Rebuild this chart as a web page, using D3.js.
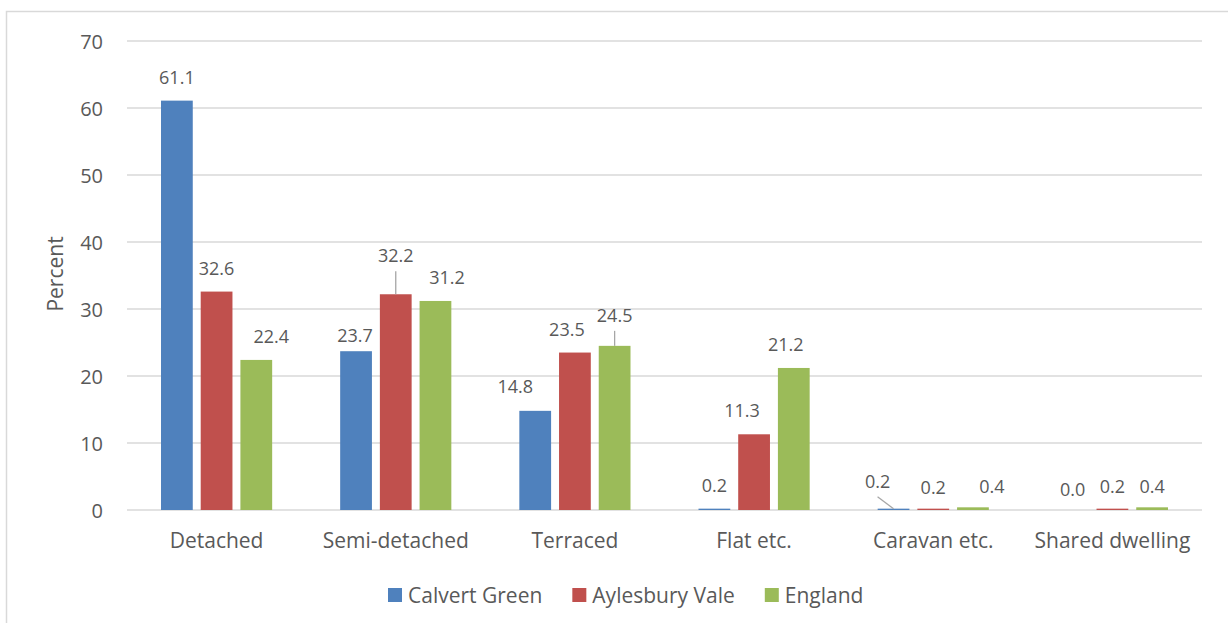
<!DOCTYPE html>
<html>
<head>
<meta charset="utf-8">
<script src="https://cdn.jsdelivr.net/npm/d3@7"></script>
<style>
  html, body { margin: 0; padding: 0; background: #ffffff; }
  svg { display: block; }
  text { font-family: "Open Sans", sans-serif; fill: #595959; }
</style>
</head>
<body>
<svg id="chart" width="1228" height="623"></svg>
<script>
// ---- Data ----
const categories = ["Detached", "Semi-detached", "Terraced", "Flat etc.", "Caravan etc.", "Shared dwelling"];
const seriesNames = ["Calvert Green", "Aylesbury Vale", "England"];
const calvertGreen = [61.1, 23.7, 14.8, 0.2, 0.2, 0.0];
const aylesburyVale = [32.6, 32.2, 23.5, 11.3, 0.2, 0.2];
const england = [22.4, 31.2, 24.5, 21.2, 0.4, 0.4];
const yTicks = [0, 10, 20, 30, 40, 50, 60, 70];

// ---- Layout / style (not data) ----
const colors = ["#4f81bd", "#c0504d", "#9bbb59"];
// label nudges [dx, dy, leader] per series per category (manual label placement)
const labelNudge = [
  [[0,0,0],[-1,8,0],[-20,-1,0],[0,0,0],[-16,-4,1],[0,3,0]],
  [[0,0,0],[0,-15,1],[-8,0,0],[-12,0,0],[0,2,0],[0,1,0]],
  [[15,0,0],[11.5,0,0],[0,-7,1],[-8,0,0],[19,3,0],[0,3,0]]
];

const seriesValues = [calvertGreen, aylesburyVale, england];
const svg = d3.select("#chart");

// outer chart border
svg.append("rect")
  .attr("x", 6.5).attr("y", 11.5).attr("width", 1300).attr("height", 700)
  .attr("fill", "none").attr("stroke", "#d9d9d9").attr("stroke-width", 1.5);

const plotLeft = 127, plotRight = 1202, plotTop = 41, plotBottom = 510;

const y = d3.scaleLinear().domain([0, 70]).range([plotBottom, plotTop]);
const x0 = d3.scaleBand().domain(categories).range([plotLeft, plotRight]).padding(0);
const x1 = d3.scaleBand().domain(seriesNames).range([34, x0.bandwidth() - 34]).paddingInner(0.2);

// gridlines
svg.append("g").selectAll("line").data(yTicks).join("line")
  .attr("x1", plotLeft).attr("x2", plotRight)
  .attr("y1", d => y(d)).attr("y2", d => y(d))
  .attr("stroke", "#d9d9d9").attr("stroke-width", 1.5);

// y axis labels
const yAxis = d3.axisLeft(y).tickValues(yTicks).tickSize(0).tickPadding(0).tickFormat(d3.format("d"));
const gy = svg.append("g").attr("transform", `translate(${plotLeft - 24},0)`).call(yAxis);
gy.select(".domain").remove();
gy.selectAll("text").attr("font-size", 20).attr("fill", "#595959")
  .style("font-family", "'Open Sans', sans-serif").attr("dy", "0.35em");

// x axis labels
const xAxis = d3.axisBottom(x0).tickSize(0).tickPadding(0);
const gx = svg.append("g").attr("transform", `translate(0,${plotBottom})`).call(xAxis);
gx.select(".domain").remove();
gx.selectAll("text").attr("font-size", 21).attr("fill", "#595959")
  .style("font-family", "'Open Sans', sans-serif").attr("dy", null).attr("y", 38);

// bars
const groups = svg.append("g").selectAll("g").data(categories).join("g")
  .attr("transform", c => `translate(${x0(c)},0)`);

groups.selectAll("rect")
  .data((c, ci) => seriesNames.map((s, si) => ({ s, si, ci, v: seriesValues[si][ci] })))
  .join("rect")
  .attr("x", d => x1(d.s))
  .attr("width", x1.bandwidth())
  .attr("y", d => y(d.v))
  .attr("height", d => y(0) - y(d.v))
  .attr("fill", d => colors[d.si]);

// data labels + leader lines
const labelData = [];
categories.forEach((c, ci) => seriesNames.forEach((s, si) => {
  const v = seriesValues[si][ci];
  const cx = x0(c) + x1(s) + x1.bandwidth() / 2;
  const top = y(v);
  const n = labelNudge[si][ci];
  labelData.push({ v, cx, top, lx: cx + n[0], ly: top - 17 + n[1], leader: n[2] });
}));

svg.append("g").selectAll("line").data(labelData.filter(d => d.leader)).join("line")
  .attr("x1", d => d.lx).attr("y1", d => d.ly + 9)
  .attr("x2", d => d.cx).attr("y2", d => d.top)
  .attr("stroke", "#a6a6a6").attr("stroke-width", 1.3);

svg.append("g").selectAll("text").data(labelData).join("text")
  .attr("x", d => d.lx).attr("y", d => d.ly)
  .attr("text-anchor", "middle").attr("font-size", 18)
  .attr("fill", "#404040")
  .text(d => d3.format(".1f")(d.v));

// y axis title
svg.append("text")
  .attr("transform", "translate(63,274) rotate(-90)")
  .attr("text-anchor", "middle").attr("font-size", 21)
  .text("Percent");

// legend
const legend = svg.append("g");
let lx = 388;
seriesNames.forEach((s, i) => {
  legend.append("rect").attr("x", lx).attr("y", 588).attr("width", 14).attr("height", 14).attr("fill", colors[i]);
  const t = legend.append("text").attr("x", lx + 20).attr("y", 603).attr("font-size", 21).text(s);
  lx += 20 + t.node().getComputedTextLength() + 30;
});
</script>
</body>
</html>
